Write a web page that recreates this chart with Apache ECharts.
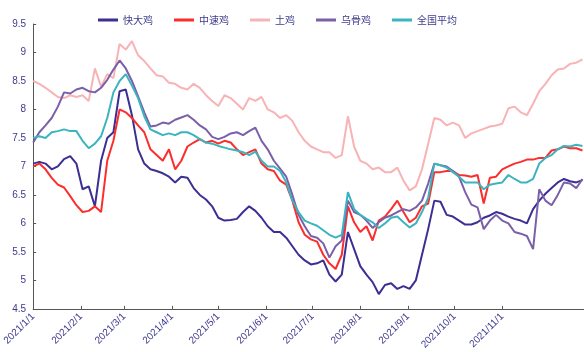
<!DOCTYPE html>
<html>
<head>
<meta charset="utf-8">
<script src="https://cdn.jsdelivr.net/npm/echarts@6/dist/echarts.min.js"></script>
<style>
  html, body { margin: 0; padding: 0; background: #fff; }
  #chart { width: 584px; height: 352px; }
</style>
</head>
<body>
<div id="chart"></div>
<script>
// Sampling grid: one reading every 4 days from 2021-01-01
const startDay = Date.UTC(2021, 0, 1);
const stepDays = 4;
const lastAxisDay = 357; // right end of the date axis (days after 2021-01-01)

// Month-start tick labels on the date axis
const tickLabels = ['2021/1/1', '2021/2/1', '2021/3/1', '2021/4/1', '2021/5/1', '2021/6/1',
                    '2021/7/1', '2021/8/1', '2021/9/1', '2021/10/1', '2021/11/1'];

// 快大鸡
const kuaida = [7.05, 7.08, 7.05, 6.95, 7.0, 7.13, 7.18, 7.05, 6.6, 6.65,
                6.3, 7.1, 7.5, 7.6, 8.32, 8.35, 7.9, 7.3, 7.05, 6.95,
                6.92, 6.88, 6.82, 6.72, 6.82, 6.8, 6.62, 6.5, 6.42, 6.3,
                6.1, 6.05, 6.06, 6.08, 6.2, 6.3, 6.22, 6.1, 5.95, 5.85,
                5.85, 5.75, 5.6, 5.45, 5.35, 5.28, 5.3, 5.35, 5.1, 4.98,
                5.1, 5.85, 5.55, 5.25, 5.1, 4.97, 4.76, 4.92, 4.95, 4.85,
                4.9, 4.85, 5.0, 5.45, 5.9, 6.4, 6.38, 6.15, 6.12, 6.05,
                5.98, 5.98, 6.02, 6.1, 6.14, 6.2, 6.17, 6.12, 6.08, 6.05,
                6.0, 6.25, 6.4, 6.52, 6.62, 6.72, 6.78, 6.74, 6.72, 6.76];

// 中速鸡
const zhongsu = [7.0, 7.05, 6.95, 6.8, 6.68, 6.63, 6.48, 6.32, 6.2, 6.22,
                 6.3, 6.2, 7.1, 7.45, 8.0, 7.95, 7.85, 7.72, 7.6, 7.3,
                 7.2, 7.1, 7.3, 6.95, 7.1, 7.35, 7.42, 7.48, 7.42, 7.45,
                 7.4, 7.45, 7.42, 7.3, 7.2, 7.25, 7.3, 7.05, 6.95, 6.92,
                 6.75, 6.68, 6.4, 6.02, 5.8, 5.72, 5.68, 5.45, 5.3, 5.2,
                 5.45, 6.3, 6.02, 5.85, 5.95, 5.7, 6.05, 6.12, 6.25, 6.4,
                 6.2, 6.02, 6.1, 6.3, 6.35, 6.9, 6.9, 6.92, 6.92, 6.85,
                 6.84, 6.82, 6.85, 6.35, 6.8, 6.82, 6.95, 7.0, 7.05, 7.08,
                 7.12, 7.12, 7.15, 7.15, 7.28, 7.3, 7.35, 7.32, 7.32, 7.28];

// 土鸡
const tuji = [8.5, 8.45, 8.38, 8.3, 8.22, 8.2, 8.25, 8.22, 8.25, 8.15,
              8.72, 8.4, 8.62, 8.55, 9.15, 9.05, 9.2, 8.95, 8.85, 8.72,
              8.6, 8.58, 8.47, 8.45, 8.38, 8.35, 8.45, 8.38, 8.25, 8.15,
              8.06, 8.25, 8.2, 8.1, 8.0, 8.2, 8.15, 8.22, 8.0, 7.95,
              7.85, 7.9, 7.8, 7.6, 7.45, 7.35, 7.3, 7.25, 7.25, 7.15,
              7.2, 7.88, 7.35, 7.1, 7.05, 6.95, 6.98, 6.9, 6.9, 6.98,
              6.75, 6.58, 6.65, 6.95, 7.4, 7.85, 7.82, 7.72, 7.77, 7.72,
              7.5, 7.58, 7.62, 7.66, 7.7, 7.72, 7.75, 8.02, 8.05, 7.95,
              7.9, 8.1, 8.32, 8.45, 8.6, 8.7, 8.72, 8.8, 8.82, 8.88];

// 乌骨鸡
const wugu = [7.42, 7.6, 7.72, 7.85, 8.05, 8.3, 8.28, 8.35, 8.38, 8.32,
              8.3, 8.38, 8.52, 8.7, 8.86, 8.72, 8.5, 8.23, 7.95, 7.7,
              7.72, 7.77, 7.75, 7.82, 7.86, 7.9, 7.82, 7.72, 7.65, 7.52,
              7.48, 7.52, 7.58, 7.6, 7.55, 7.62, 7.68, 7.45, 7.3, 7.1,
              6.96, 6.82, 6.5, 6.15, 5.95, 5.78, 5.75, 5.65, 5.4, 5.6,
              5.7, 6.4, 6.2, 6.15, 6.05, 5.92, 6.02, 6.1, 6.14, 6.2,
              6.25, 6.22, 6.28, 6.4, 6.7, 7.05, 7.02, 7.0, 6.92, 6.82,
              6.55, 6.33, 6.28, 5.9, 6.05, 6.15, 6.05, 6.0, 5.85, 5.82,
              5.78, 5.55, 6.6, 6.4, 6.32, 6.5, 6.72, 6.7, 6.62, 6.78];

// 全国平均
const quanguo = [7.5, 7.53, 7.5, 7.6, 7.62, 7.65, 7.62, 7.62, 7.45, 7.32,
                 7.4, 7.53, 7.85, 8.3, 8.5, 8.62, 8.42, 8.2, 7.88, 7.65,
                 7.6, 7.55, 7.58, 7.55, 7.6, 7.6, 7.55, 7.48, 7.42, 7.4,
                 7.36, 7.33, 7.3, 7.28, 7.25, 7.2, 7.26, 7.1, 7.0, 7.0,
                 6.92, 6.72, 6.4, 6.2, 6.05, 6.0, 5.96, 5.88, 5.8, 5.75,
                 5.8, 6.55, 6.25, 6.15, 6.08, 6.02, 5.92, 6.0, 6.1, 6.12,
                 6.02, 5.93, 6.0, 6.2, 6.45, 7.05, 7.02, 6.98, 6.9, 6.82,
                 6.72, 6.72, 6.72, 6.6, 6.68, 6.7, 6.72, 6.85, 6.78, 6.72,
                 6.72, 6.78, 7.05, 7.15, 7.2, 7.3, 7.36, 7.35, 7.38, 7.36];

const DAY = 86400000;
// x positions are day offsets from 2021-01-01
const dayOffsets = kuaida.map((_, i) => i * stepDays);

function parseLabel(s) {
  const [y, m, d] = s.split('/').map(Number);
  return Math.round((Date.UTC(y, m - 1, d) - startDay) / DAY);
}
const tickDays = tickLabels.map(parseLabel);

function fmtDay(v) {
  const d = new Date(startDay + v * DAY);
  return d.getUTCFullYear() + '/' + (d.getUTCMonth() + 1) + '/' + d.getUTCDate();
}

const textColor = '#3d3a8c';
const seriesDefs = [
  { name: '快大鸡', data: kuaida, color: '#3b2f93' },
  { name: '中速鸡', data: zhongsu, color: '#fb2d2d' },
  { name: '土鸡', data: tuji, color: '#f8b3b6' },
  { name: '乌骨鸡', data: wugu, color: '#7a5fa9' },
  { name: '全国平均', data: quanguo, color: '#3bb4bf' }
];

const chart = echarts.init(document.getElementById('chart'), null, { renderer: 'canvas' });
chart.setOption({
  animation: false,
  backgroundColor: '#ffffff',
  textStyle: { fontFamily: '"Noto Sans CJK SC", "Liberation Sans", sans-serif' },
  legend: {
    top: 10,
    left: 93,
    icon: 'rect',
    itemWidth: 20,
    itemHeight: 3,
    itemGap: 21,
    textStyle: { color: textColor, fontSize: 10, fontFamily: '"Noto Sans CJK SC", sans-serif' },
    data: seriesDefs.map(s => s.name)
  },
  grid: { left: 32, right: 0, top: 24, bottom: 42, containLabel: false },
  xAxis: {
    type: 'value',
    min: 0,
    max: lastAxisDay,
    axisLine: { show: true, lineStyle: { color: '#555', width: 1 } },
    axisTick: { show: true, inside: true, length: 3, customValues: tickDays, lineStyle: { color: '#555' } },
    axisLabel: {
      customValues: tickDays,
      rotate: 45,
      margin: 6,
      fontSize: 10,
      color: textColor,
      fontFamily: '"Liberation Sans", sans-serif',
      formatter: fmtDay,
      hideOverlap: false
    },
    splitLine: { show: false }
  },
  yAxis: {
    type: 'value',
    min: 4.5,
    max: 9.5,
    interval: 0.5,
    axisLine: { show: true, lineStyle: { color: '#555', width: 1 } },
    axisTick: { show: true, inside: true, length: 3, lineStyle: { color: '#555' } },
    axisLabel: { color: textColor, fontSize: 10, margin: 7, fontFamily: '"Liberation Sans", sans-serif' },
    splitLine: { show: false }
  },
  series: seriesDefs.map(s => ({
    name: s.name,
    type: 'line',
    data: s.data.map((v, i) => [dayOffsets[i], v]),
    showSymbol: false,
    symbol: 'none',
    color: s.color,
    lineStyle: { color: s.color, width: 2 },
    itemStyle: { color: s.color }
  }))
});
</script>
</body>
</html>
